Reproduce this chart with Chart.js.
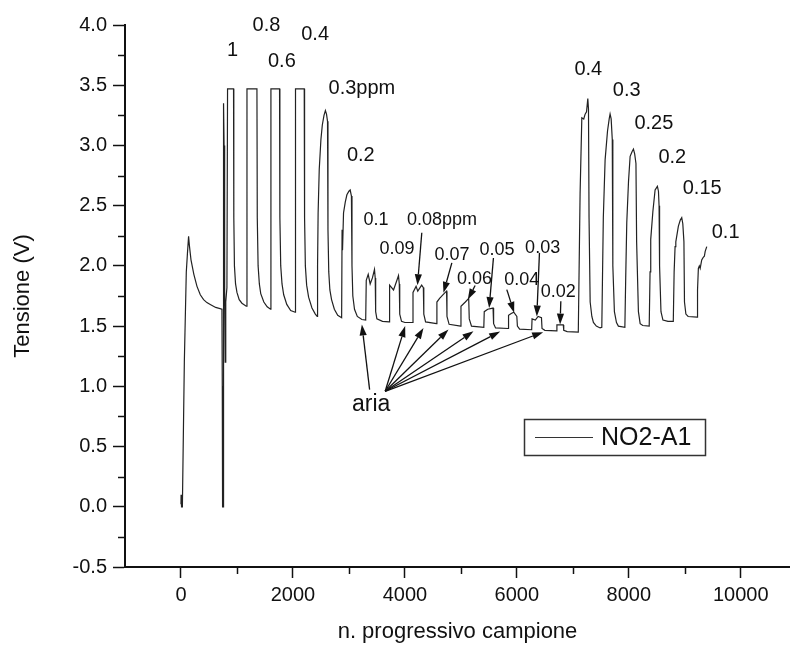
<!DOCTYPE html>
<html>
<head>
<meta charset="utf-8">
<script src="https://cdn.jsdelivr.net/npm/chart.js@4.4.1/dist/chart.umd.min.js"></script>
<style>
  html, body { margin: 0; padding: 0; background: #fff; overflow: hidden; }
  #wrap { width: 790px; height: 647px; position: relative; }
</style>
</head>
<body>
<div id="wrap"><canvas id="chart"></canvas></div>
<script>
"use strict";

// sensor trace (sample number / voltage)
const sampleNo = [
  0, 2, 8, 12, 25, 60, 95, 115, 136, 150, 179, 230, 286, 345, 404, 463, 523, 620, 732,
  738, 743, 752, 758, 763, 770, 780, 791, 800, 821,
  832, 939, 944, 955, 975, 1000, 1040, 1089, 1166,
  1179, 1357, 1363, 1378, 1400, 1425, 1480, 1540, 1600,
  1607, 1761, 1767, 1782, 1805, 1835, 1890, 1960, 2040,
  2046, 2202, 2208, 2222, 2245, 2280, 2340, 2400, 2434,
  2440, 2450, 2470, 2500, 2525, 2555, 2580, 2600, 2618, 2626, 2640, 2660, 2690, 2740, 2800, 2870,
  2878, 2886, 2904, 2935, 2964, 3000, 3023, 3045, 3055, 3070, 3100, 3150, 3232,
  3300, 3310, 3345, 3380, 3420, 3457, 3470, 3478, 3500, 3600, 3720,
  3727, 3797, 3850, 3886, 3900, 3908, 3940, 4000, 4140,
  4145, 4200, 4230, 4300, 4330, 4338, 4370, 4565,
  4572, 4620, 4700, 4745, 4752, 4790, 4995,
  5002, 5080, 5140, 5150, 5190, 5410,
  5418, 5480, 5575, 5585, 5620, 5845,
  5852, 5900, 5945, 6000, 6010, 6050, 6265,
  6272, 6330, 6380, 6440, 6450, 6500, 6710,
  6716, 6830, 6838, 6900, 7098,
  7130, 7161, 7195, 7220, 7245, 7268, 7280, 7290, 7310, 7340, 7368, 7420, 7487,
  7518, 7545, 7577, 7620, 7650, 7666, 7685, 7705, 7715, 7743, 7780, 7814, 7930,
  7945, 7964, 7995, 8024, 8060, 8083, 8105, 8128, 8140, 8172, 8203, 8250, 8365,
  8380, 8392, 8430, 8470, 8511, 8530, 8541, 8550, 8575, 8610, 8700, 8795,
  8810, 8827, 8840, 8886, 8920, 8946, 8965, 8985, 8995, 9020, 9060, 9220,
  9228, 9243, 9260, 9275, 9303, 9330, 9350, 9365, 9393
];
const tensione = [
  0.02, 0.1, 0.1, 0.0, 0.0, 1.2, 1.95, 2.1, 2.245, 2.17, 2.05, 1.93, 1.83, 1.76, 1.72, 1.695, 1.68, 1.655, 1.64,
  1.0, 0.0, 0.0, 2.0, 3.35, 3.0, 1.8, 1.2, 1.7, 1.82,
  3.47, 3.47, 2.4, 2.0, 1.85, 1.78, 1.72, 1.69, 1.665,
  3.47, 3.47, 2.4, 2.0, 1.85, 1.77, 1.70, 1.66, 1.64,
  3.47, 3.47, 2.4, 2.0, 1.85, 1.76, 1.68, 1.63, 1.615,
  3.47, 3.47, 2.4, 2.0, 1.84, 1.74, 1.65, 1.60, 1.58,
  2.0, 2.44, 2.8, 3.05, 3.17, 3.25, 3.29, 3.26, 3.2, 2.3, 1.95, 1.8, 1.72, 1.64, 1.59, 1.57,
  2.30, 2.13, 2.44, 2.53, 2.59, 2.62, 2.63, 2.58, 2.0, 1.75, 1.64, 1.58, 1.555,
  1.55, 1.88, 1.93, 1.85, 1.9, 1.97, 1.9, 1.62, 1.56, 1.54, 1.535,
  1.84, 1.80, 1.87, 1.92, 1.85, 1.6, 1.54, 1.53, 1.53,
  1.78, 1.83, 1.79, 1.84, 1.82, 1.6, 1.535, 1.52,
  1.70, 1.73, 1.77, 1.79, 1.58, 1.515, 1.50,
  1.665, 1.70, 1.73, 1.56, 1.50, 1.49,
  1.62, 1.64, 1.65, 1.52, 1.485, 1.48,
  1.59, 1.605, 1.615, 1.58, 1.50, 1.475, 1.47,
  1.56, 1.55, 1.58, 1.57, 1.48, 1.465, 1.46,
  1.51, 1.51, 1.465, 1.455, 1.45,
  2.6, 3.23, 3.22, 3.26, 3.28, 3.39, 3.3, 2.4, 1.70, 1.58, 1.53, 1.5, 1.485,
  1.49, 2.4, 2.88, 3.12, 3.22, 3.26, 3.22, 3.05, 2.0, 1.62, 1.53, 1.50, 1.49,
  1.9, 2.36, 2.7, 2.91, 2.95, 2.97, 2.93, 2.85, 2.2, 1.62, 1.52, 1.505, 1.50,
  1.95, 2.22, 2.45, 2.63, 2.66, 2.62, 2.5, 2.0, 1.62, 1.55, 1.54, 1.54,
  1.95, 2.16, 2.20, 2.33, 2.38, 2.40, 2.35, 2.2, 1.7, 1.6, 1.58, 1.575,
  1.80, 1.98, 2.0, 1.98, 2.05, 2.07, 2.08, 2.12, 2.16
];
const seriesName = "NO2-A1";

// axis ticks
const xMajorTicks = [0, 2000, 4000, 6000, 8000, 10000];
const xMinorTicks = [1000, 3000, 5000, 7000, 9000];
const yMajorTicks = [-0.5, 0, 0.5, 1, 1.5, 2, 2.5, 3, 3.5, 4];
const yMinorTicks = [-0.25, 0.25, 0.75, 1.25, 1.75, 2.25, 2.75, 3.25, 3.75];

// concentration labels: text, sample, voltage, font size
const concLabels = [
  ["1", 821, 3.79, 20], ["0.8", 1279, 4.0, 20], ["0.6", 1554, 3.70, 20], ["0.4", 2148, 3.92, 20],
  ["0.3ppm", 2636, 3.47, 20], ["0.2", 2964, 2.92, 20],
  ["0.1", 3261, 2.38, 18], ["0.09", 3547, 2.14, 18], ["0.08ppm", 4036, 2.38, 18],
  ["0.07", 4529, 2.09, 18], ["0.06", 4929, 1.89, 18], ["0.05", 5332, 2.13, 18],
  ["0.04", 5773, 1.88, 18], ["0.03", 6148, 2.15, 18], ["0.02", 6429, 1.78, 18],
  ["0.4", 7029, 3.63, 20], ["0.3", 7714, 3.46, 20], ["0.25", 8100, 3.18, 20],
  ["0.2", 8529, 2.90, 20], ["0.15", 8964, 2.64, 20], ["0.1", 9482, 2.28, 20]
];
// arrows label -> pulse: from x, from y, to x, to y
const labelArrows = [
  [4302, 2.275, 4225, 1.84], [4839, 2.025, 4689, 1.776], [5255, 1.837, 5125, 1.72],
  [5582, 2.066, 5505, 1.65], [5821, 1.803, 5952, 1.61], [6404, 2.108, 6357, 1.58],
  [6786, 1.706, 6773, 1.513]
];
const ariaText = ["aria", 3054, 0.85, 23];
const ariaArrows = [
  [3370, 0.973, 3232, 1.514], [3648, 0.959, 4005, 1.50], [3648, 0.959, 4332, 1.485],
  [3648, 0.959, 4779, 1.471], [3648, 0.959, 5225, 1.457], [3648, 0.959, 5702, 1.455],
  [3648, 0.959, 6470, 1.45]
];

const FONT = "'Liberation Sans', Arial, Helvetica, sans-serif";
const INK = "#111";

function drawArrow(ctx, x0, y0, x1, y1) {
  const ang = Math.atan2(y1 - y0, x1 - x0);
  const len = 11, half = 3.6;
  const bx = x1 - len * Math.cos(ang), by = y1 - len * Math.sin(ang);
  ctx.beginPath();
  ctx.moveTo(x0, y0);
  ctx.lineTo(bx, by);
  ctx.stroke();
  ctx.beginPath();
  ctx.moveTo(x1, y1);
  ctx.lineTo(bx + half * Math.sin(ang), by - half * Math.cos(ang));
  ctx.lineTo(bx - half * Math.sin(ang), by + half * Math.cos(ang));
  ctx.closePath();
  ctx.fill();
}

const annotPlugin = {
  id: "annot",
  afterDatasetsDraw(chart) {
    const ctx = chart.ctx;
    const xs = chart.scales.x, ys = chart.scales.y;
    ctx.save();
    ctx.fillStyle = INK;
    ctx.strokeStyle = INK;
    ctx.lineWidth = 1.3;
    ctx.textBaseline = "middle";
    ctx.textAlign = "left";
    concLabels.forEach(l => {
      ctx.font = l[3] + "px " + FONT;
      ctx.fillText(l[0], xs.getPixelForValue(l[1]), ys.getPixelForValue(l[2]));
    });
    ctx.font = ariaText[3] + "px " + FONT;
    ctx.fillText(ariaText[0], xs.getPixelForValue(ariaText[1]), ys.getPixelForValue(ariaText[2]));
    labelArrows.concat(ariaArrows).forEach(a => {
      drawArrow(ctx, xs.getPixelForValue(a[0]), ys.getPixelForValue(a[1]),
        xs.getPixelForValue(a[2]), ys.getPixelForValue(a[3]));
    });
    ctx.restore();
  },
  afterDraw(chart) {
    const ctx = chart.ctx;
    const xs = chart.scales.x, ys = chart.scales.y;
    const area = chart.chartArea;
    ctx.save();
    ctx.strokeStyle = INK;
    ctx.lineWidth = 1.5;
    // minor ticks
    xMinorTicks.forEach(v => {
      const px = Math.round(xs.getPixelForValue(v)) + 0.5;
      ctx.beginPath();
      ctx.moveTo(px, area.bottom);
      ctx.lineTo(px, area.bottom + 7);
      ctx.stroke();
    });
    yMinorTicks.forEach(v => {
      const py = Math.round(ys.getPixelForValue(v)) + 0.5;
      ctx.beginPath();
      ctx.moveTo(area.left - 7, py);
      ctx.lineTo(area.left, py);
      ctx.stroke();
    });
    // legend box
    ctx.lineWidth = 1.5;
    ctx.strokeStyle = "#333";
    ctx.strokeRect(524.5, 419.5, 181, 36);
    ctx.lineWidth = 1;
    ctx.beginPath();
    ctx.moveTo(535, 437.5);
    ctx.lineTo(593, 437.5);
    ctx.stroke();
    ctx.fillStyle = INK;
    ctx.font = "25px " + FONT;
    ctx.textBaseline = "middle";
    ctx.fillText(seriesName, 601, 438);
    ctx.restore();
  }
};

const points = sampleNo.map((x, i) => ({ x: x, y: tensione[i] }));

new Chart(document.getElementById("chart"), {
  type: "line",
  data: {
    datasets: [{
      label: seriesName,
      data: points,
      borderColor: "#222",
      borderWidth: 1.2,
      pointRadius: 0,
      tension: 0,
      fill: false
    }]
  },
  options: {
    responsive: true,
    maintainAspectRatio: false,
    animation: false,
    layout: { padding: { top: 25, right: 0, bottom: 0, left: 0 } },
    plugins: {
      legend: { display: false },
      tooltip: { enabled: false }
    },
    scales: {
      x: {
        type: "linear",
        min: -1000,
        max: 10880,
        afterFit: s => { s.height = 80; },
        afterBuildTicks: s => { s.ticks = xMajorTicks.map(v => ({ value: v })); },
        grid: { drawOnChartArea: false, drawTicks: true, tickLength: 11, tickWidth: 1.5, tickColor: INK },
        border: { display: true, color: INK, width: 2 },
        ticks: {
          autoSkip: false,
          maxRotation: 0,
          padding: 5,
          color: INK,
          font: { size: 20, family: FONT },
          callback: v => String(v)
        },
        title: {
          display: true,
          text: "n. progressivo campione",
          color: INK,
          font: { size: 22, family: FONT },
          padding: { top: 0, bottom: 2 }
        }
      },
      y: {
        min: -0.5,
        max: 4,
        afterFit: s => { s.width = 125; },
        afterBuildTicks: s => { s.ticks = yMajorTicks.map(v => ({ value: v })); },
        grid: { drawOnChartArea: false, drawTicks: true, tickLength: 12, tickWidth: 1.5, tickColor: INK },
        border: { display: true, color: INK, width: 2 },
        ticks: {
          autoSkip: false,
          padding: 6,
          color: INK,
          font: { size: 20, family: FONT },
          callback: v => v.toFixed(1)
        },
        title: {
          display: true,
          text: "Tensione (V)",
          color: INK,
          font: { size: 22, family: FONT },
          padding: { top: 10, bottom: 0 }
        }
      }
    }
  },
  plugins: [annotPlugin]
});
</script>
</body>
</html>
